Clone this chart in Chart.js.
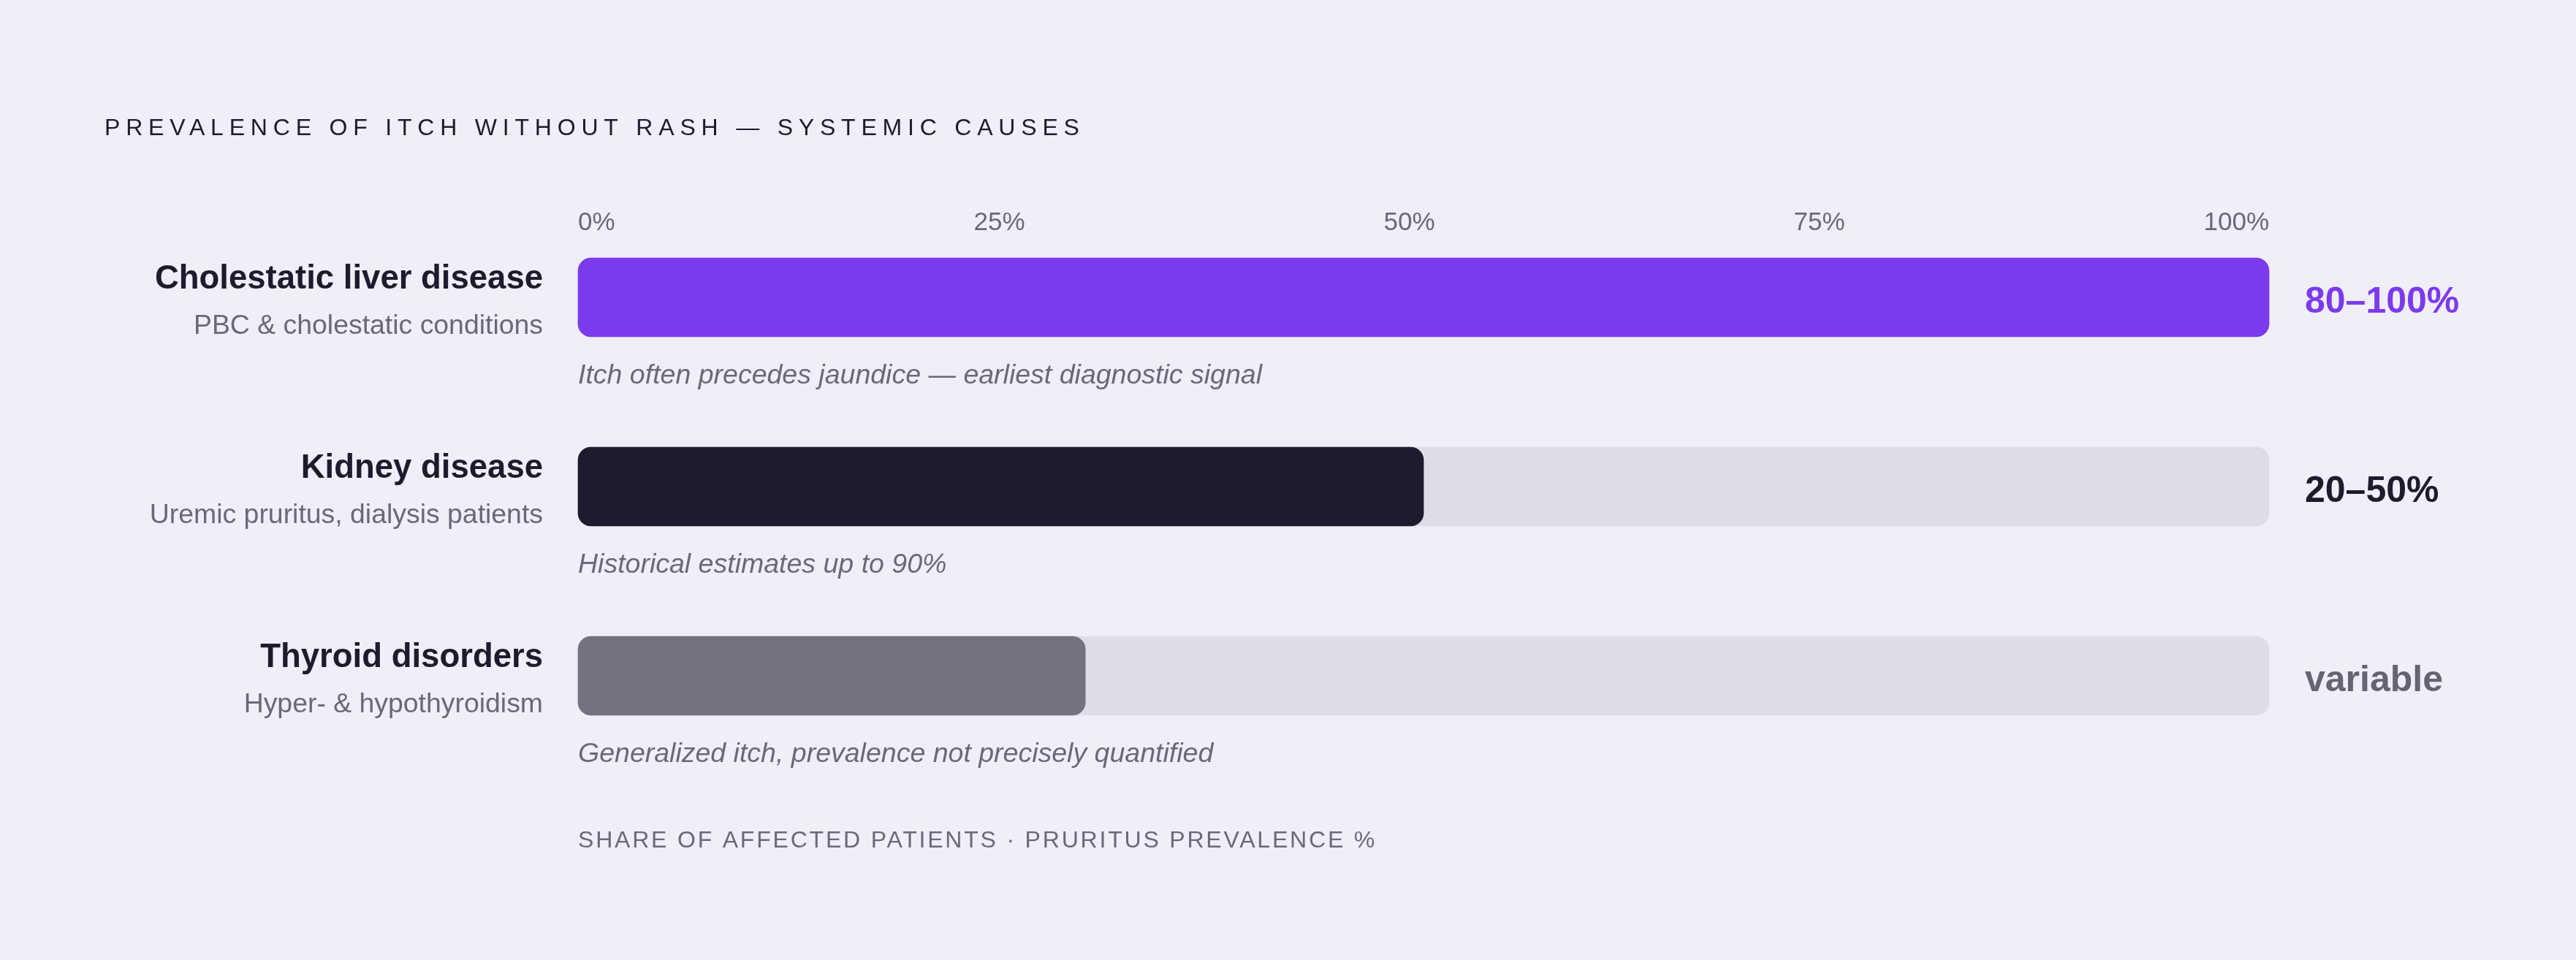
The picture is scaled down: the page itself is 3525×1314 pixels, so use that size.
<!DOCTYPE html>
<html>
<head>
<meta charset="utf-8">
<script src="https://cdn.jsdelivr.net/npm/chart.js@4.4.1/dist/chart.umd.min.js"></script>
<style>
  html, body { margin: 0; padding: 0; background: #f0eef9; }
  #wrap { width: 3525px; height: 1314px; }
</style>
</head>
<body>
<div id="wrap"><canvas id="chart" width="3525" height="1314"></canvas></div>
<script>
const TITLE = 'PREVALENCE OF ITCH WITHOUT RASH — SYSTEMIC CAUSES'
const FOOTER = 'SHARE OF AFFECTED PATIENTS · PRURITUS PREVALENCE %'

const causes = ['Cholestatic liver disease', 'Kidney disease', 'Thyroid disorders']
const subtitles = ['PBC & cholestatic conditions', 'Uremic pruritus, dialysis patients', 'Hyper- & hypothyroidism']
const notes = [
    'Itch often precedes jaundice — earliest diagnostic signal',
    'Historical estimates up to 90%',
    'Generalized itch, prevalence not precisely quantified'
]
const values = [100, 50, 30]
const track = [100, 100, 100]
const rangeLabels = ['80–100%', '20–50%', 'variable']
const xTicks = [0, 25, 50, 75, 100]

const barColors = ['#7c3aed', '#1e1b2e', '#757181']
const rangeColors = ['#7c3aed', '#1e1b2e', '#676373']
const FONT = '"Liberation Sans", Arial, Helvetica, sans-serif'
const GREY = '#6b6879'

// labels, notes, ranges, tick row and the header/footer text
const textPlugin = {
    id: 'texts',
    afterDraw(chart) {
        const ctx = chart.ctx
        const x = chart.scales.x
        const y = chart.scales.y
        ctx.save()
        ctx.textBaseline = 'alphabetic'
        ctx.textAlign = 'left'

        ctx.fillStyle = '#1e1b2e'
        ctx.font = '32px ' + FONT
        ctx.letterSpacing = '7.8px'
        ctx.fillText(TITLE, 143, 185)

        ctx.fillStyle = GREY
        ctx.letterSpacing = '2.8px'
        ctx.fillText(FOOTER, x.left, 1160)
        ctx.letterSpacing = '0px'

        // tick labels are spread edge to edge with equal gaps
        ctx.font = '35px ' + FONT
        const tickText = x.ticks.map(t => t.value + '%')
        const widths = tickText.map(t => ctx.measureText(t).width)
        const gap = (x.right - x.left - widths.reduce((a, b) => a + b, 0)) / (tickText.length - 1)
        let tx = x.left
        tickText.forEach((t, i) => {
            ctx.fillText(t, tx, 315)
            tx += widths[i] + gap
        })

        causes.forEach((name, i) => {
            const cy = y.getPixelForValue(i)

            ctx.textAlign = 'right'
            ctx.fillStyle = '#1e1b2e'
            ctx.font = 'bold 45.5px ' + FONT
            ctx.fillText(name, x.left - 48, cy - 12)

            ctx.fillStyle = GREY
            ctx.font = '37.4px ' + FONT
            ctx.fillText(subtitles[i], x.left - 48, cy + 50)

            ctx.textAlign = 'left'
            ctx.font = 'italic 37.5px ' + FONT
            ctx.fillText(notes[i], x.left, cy + 118)

            ctx.fillStyle = rangeColors[i]
            ctx.font = 'bold 50px ' + FONT
            ctx.fillText(rangeLabels[i], x.right + 49, cy + 21)
        })
        ctx.restore()
    }
}

const config = {
    type: 'bar',
    data: {
        labels: causes,
        datasets: [{
            label: 'Prevalence',
            data: values,
            backgroundColor: barColors,
            order: 1
        }, {
            label: 'Track',
            data: track,
            backgroundColor: '#dddde8',
            order: 2
        }]
    },
    options: {
        indexAxis: 'y',
        responsive: false,
        devicePixelRatio: 1,
        animation: false,
        layout: {
            padding: { left: 791, right: 420, top: 407, bottom: 389 }
        },
        datasets: {
            bar: {
                grouped: false,
                clip: false,
                barThickness: 108,
                borderRadius: 18,
                borderSkipped: false
            }
        },
        scales: {
            x: {
                position: 'top',
                min: 0,
                max: 100,
                afterBuildTicks: s => { s.ticks = xTicks.map(v => ({ value: v })) },
                grid: { display: false, drawTicks: false },
                border: { display: false },
                ticks: { display: false }
            },
            y: {
                type: 'category',
                offset: false,
                display: false,
                grid: { display: false }
            }
        },
        plugins: {
            legend: { display: false },
            tooltip: { enabled: false },
            title: { display: false }
        }
    },
    plugins: [textPlugin]
}

const chart = new Chart(document.getElementById('chart').getContext('2d'), config)
</script>
</body>
</html>
